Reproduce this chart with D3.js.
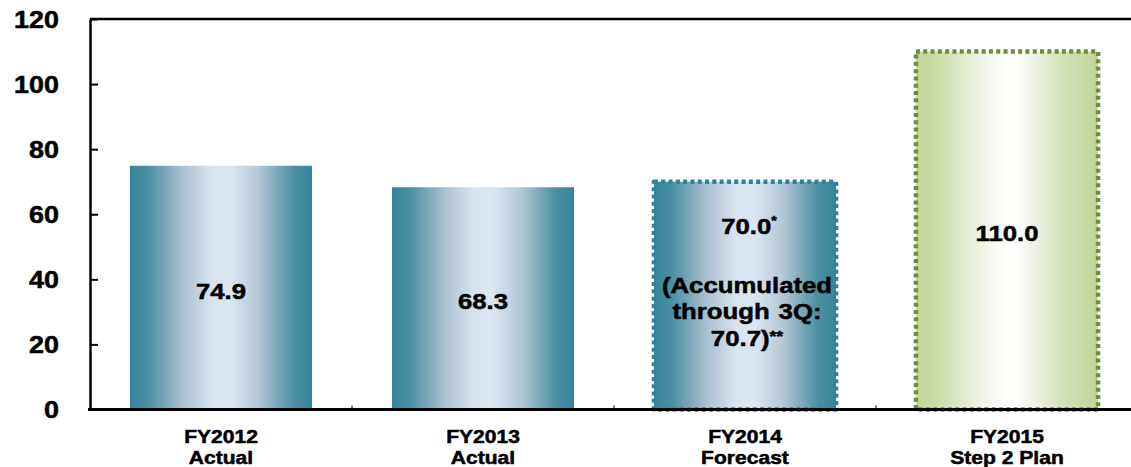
<!DOCTYPE html>
<html>
<head>
<meta charset="utf-8">
<script src="https://cdn.jsdelivr.net/npm/d3@7"></script>
<style>
  html, body { margin: 0; padding: 0; background: #fff; }
  svg { display: block; font-family: "Liberation Sans", Arial, sans-serif; font-weight: bold; }
  text { stroke: #000; stroke-width: 0.5px; paint-order: stroke; }
</style>
</head>
<body>
<svg id="chart" width="1131" height="467"></svg>
<script>
// Fiscal years and their status lines
const categories = ["FY2012", "FY2013", "FY2014", "FY2015"];
const categorySubtitles = ["Actual", "Actual", "Forecast", "Step 2 Plan"];
// Bar values
const values = [74.9, 68.3, 70.0, 110.0];
// Bar kind: solid actuals, dotted forecast, dotted plan
const kinds = ["actual", "actual", "forecast", "plan"];
// Y axis ticks
const yTicks = [0, 20, 40, 60, 80, 100, 120];
// Extra note inside the forecast bar
const forecastNote = ["(Accumulated", "through 3Q:", "70.7)"];

const svg = d3.select("#chart");
const plotLeft = 90, plotRight = 1138, plotTop = 19, plotBottom = 409.5;
const stretch = 1.17;

const x = d3.scaleBand().domain(categories).range([plotLeft, plotRight])
  .paddingInner(0.305).paddingOuter(0.1525);
const y = d3.scaleLinear().domain([0, 120]).range([plotBottom, plotTop]);

// gradients
const defs = svg.append("defs");
function grad(id, stops) {
  const g = defs.append("linearGradient").attr("id", id)
    .attr("x1", "0").attr("x2", "1").attr("y1", "0").attr("y2", "0");
  stops.forEach(([o, c]) => g.append("stop").attr("offset", o).attr("stop-color", c));
}
grad("teal", [[0, "#35869b"], [0.1, "#4c8fa3"], [0.3, "#afc3d2"], [0.45, "#d9e3ee"],
  [0.55, "#dce6f1"], [0.7, "#b6c9d7"], [0.9, "#4c8fa3"], [1, "#35869b"]]);
grad("green", [[0, "#c3d69b"], [0.12, "#cadca8"], [0.35, "#eef3e4"], [0.5, "#ffffff"],
  [0.58, "#fbfcf8"], [0.8, "#d3e1b8"], [1, "#c3d69b"]]);

const fillOf = k => k === "plan" ? "url(#green)" : "url(#teal)";
const strokeOf = k => k === "plan" ? "#6f8c36" : (k === "forecast" ? "#2f8299" : "none");

// bars
svg.append("g").selectAll("rect").data(values).join("rect")
  .attr("x", (d, i) => x(categories[i]))
  .attr("y", d => y(d))
  .attr("width", x.bandwidth())
  .attr("height", d => y(0) - y(d))
  .attr("fill", (d, i) => fillOf(kinds[i]))
  .attr("stroke", (d, i) => strokeOf(kinds[i]))
  .attr("stroke-width", 4.5)
  .attr("stroke-dasharray", "4 3.3")
  .attr("stroke-linejoin", "round");

// frame: top border line
svg.append("line").attr("x1", plotLeft).attr("x2", 1131).attr("y1", y(120)).attr("y2", y(120))
  .attr("stroke", "#000").attr("stroke-width", 2.5);

// y axis
const yAxis = svg.append("g").attr("transform", `translate(${plotLeft},0)`)
  .call(d3.axisLeft(y).tickValues(yTicks).tickSize(-8).tickSizeOuter(0).tickPadding(31));
yAxis.select(".domain").attr("stroke", "#000").attr("stroke-width", 2.5);
yAxis.selectAll(".tick line").attr("stroke", "#000").attr("stroke-width", 2);
yAxis.selectAll(".tick text")
  .attr("x", null).attr("dy", "0.36em")
  .attr("transform", `translate(-31,0) scale(${stretch},1)`)
  .attr("font-size", 23).attr("font-weight", "bold").attr("font-family", "Liberation Sans, Arial, sans-serif")
  .attr("fill", "#000");

// x axis
const xAxis = svg.append("g").attr("transform", `translate(0,${plotBottom})`)
  .call(d3.axisBottom(x).tickSize(0).tickSizeOuter(0).tickPadding(0));
xAxis.select(".domain").attr("stroke", "#000").attr("stroke-width", 3)
  .attr("d", `M${plotLeft - 2},0H${1131}`);
xAxis.selectAll(".tick text").each(function (d) {
  const t = d3.select(this);
  t.text(null).attr("y", null).attr("dy", null)
    .attr("font-size", 18).attr("font-weight", "bold")
    .attr("font-family", "Liberation Sans, Arial, sans-serif").attr("fill", "#000")
    .attr("transform", `scale(${stretch},1)`);
  t.append("tspan").attr("x", 0).attr("y", 33.5).text(d);
  t.append("tspan").attr("x", 0).attr("y", 54.5).text(categorySubtitles[categories.indexOf(d)]);
});
// small category separators on the x axis
const step = x.step();
xAxis.append("g").selectAll("line").data(categories.slice(1)).join("line")
  .attr("x1", d => x(d) - step * x.paddingInner() / 2)
  .attr("x2", d => x(d) - step * x.paddingInner() / 2)
  .attr("y1", -4).attr("y2", 0)
  .attr("stroke", "#000").attr("stroke-width", 1);

// value labels
const labels = svg.append("g").attr("font-size", 22).attr("fill", "#000").attr("text-anchor", "middle");
values.forEach((v, i) => {
  const cx = x(categories[i]) + x.bandwidth() / 2;
  if (kinds[i] === "forecast") {
    const base = y(v) + 52;
    const t = labels.append("text").attr("transform", `translate(${cx + 4},${base}) scale(${stretch},1)`);
    t.append("tspan").text(v.toFixed(1));
    t.append("tspan").attr("font-size", 12).attr("dy", -9).text("*");
    forecastNote.forEach((line, j) => {
      const nt = labels.append("text")
        .attr("transform", `translate(${cx + 2},${base + 59 + j * 26.7}) scale(${stretch},1)`)
        .style("word-spacing", j === 1 ? "1.5px" : null);
      nt.append("tspan").text(line);
      if (j === forecastNote.length - 1) nt.append("tspan").attr("font-size", 15).attr("dy", -5).text("**");
    });
  } else {
    const cy = (y(v) + y(0)) / 2 + 3;
    labels.append("text")
      .attr("transform", `translate(${cx},${cy}) scale(${stretch},1)`)
      .attr("dy", "0.36em").text(v.toFixed(1));
  }
});
</script>
</body>
</html>
